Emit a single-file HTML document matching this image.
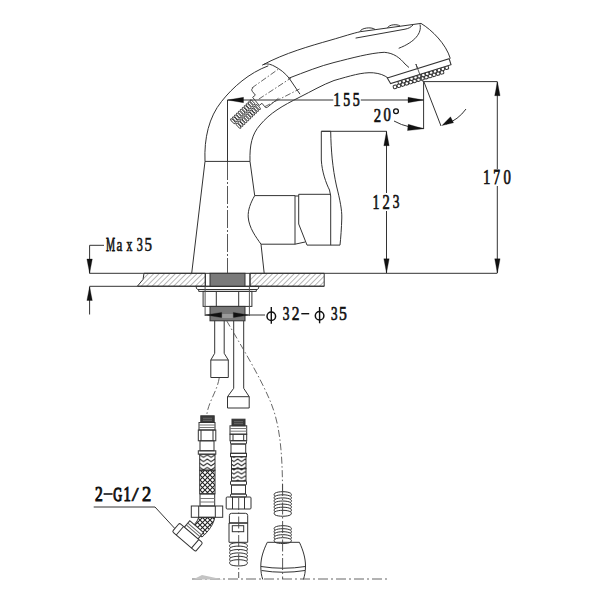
<!DOCTYPE html>
<html><head><meta charset="utf-8">
<style>
html,body{margin:0;padding:0;background:#fff;}
svg{display:block;}
text{font-family:"Liberation Serif",serif;fill:#111;stroke:#111;stroke-width:0.55px;}
</style></head>
<body>
<svg width="600" height="600" viewBox="0 0 600 600">
<defs>
<pattern id="hatch" patternUnits="userSpaceOnUse" width="3.82" height="3.82" patternTransform="rotate(45)">
<line x1="0" y1="0" x2="0" y2="3.82" stroke="#555" stroke-width="0.85"/>
</pattern>
</defs>
<rect width="600" height="600" fill="#fff"/>
<g fill="none" stroke="#333" stroke-width="1" stroke-linejoin="round">

<!-- ===== DIMENSIONS ===== -->
<!-- 155 -->
<path d="M227.5 100 H333.3 M360.8 100 H423.6"/>
<path d="M227.5 100 V162"/>
<path d="M423.6 82 V129"/>
<path d="M423 81.6 H497.3"/>
<!-- 170 -->
<path d="M497.3 82 V169 M497.3 186 V273"/>
<!-- 123 -->
<path d="M386.5 131.3 V193 M386.5 211 V273"/>
<path d="M321.3 131.3 H386.7"/>
<!-- countertop line -->
<path d="M89.5 273.3 H497.3"/>
<path d="M89.5 286.3 H137.5"/>
<!-- max35 -->
<path d="M104 245.3 H89.6 V273.3 M89.6 286.7 V314.5"/>
<!-- 20 deg -->
<path d="M394 121 Q401 125 410 127 L423.6 128.5"/>
<path d="M424 82 L441 126"/>
<path d="M466 109 Q458 120 446 124"/>
<!-- phi dim -->
<path d="M205 315 H265"/>
<!-- 2-G1/2 leader -->
<path d="M93.7 507 H155 L175 528.7"/>
</g>


<!-- ===== FAUCET BODY ===== -->
<g fill="none" stroke="#333" stroke-width="1" stroke-linejoin="round">
<!-- outer spout arc -->
<path d="M205 161.4 C204 138 209 117 221.5 101.5 C233 87 249 73 268.3 65.8"/>
<!-- body top line -->
<path d="M205 161.4 H250"/>
<!-- body left -->
<path d="M205 161.4 L191.7 273.3"/>
<!-- body right concave -->
<path d="M250 161.4 L254.7 195.6 C250.5 203 247.8 210 248.2 217 C249 228 256 237 261 244.2 L264.2 273.3"/>
<!-- inner spout arc -->
<path d="M250 161.4 C249.5 145 252 134 260 125 C270 113 282 106 300 97 C312 91 322 85 334 80.5 C350 76 362 72 373.3 72.8 C380 73.5 384 75 388.5 78.3"/>
<!-- head top outer line -->
<path d="M262.5 65 C285 53 310 46 330 40.3 C345 36 352 33.5 360.3 31.7 L421 23.4"/>
<!-- buttons -->
<path d="M360 31.6 C361 28 371 26.5 375 29.4"/>
<path d="M387.5 27.8 C389 24.5 397 23.8 400 26"/>
<!-- head front right curve -->
<path d="M421 23.4 C432 30 446 44 450.3 58.5"/>
<!-- head back edge -->
<path d="M262.5 65 C266 63 270 64 274 66 C280 69 285 73 289 78 L300 94.2"/>
<!-- middle line -->
<path d="M288.5 78.3 C305 72 320 66 334 62.5 C352 58 370 53 384.2 52.3 C394 53 400 58 405 64 L409 67.5"/>
<!-- inner top line -->
<path d="M355.6 38.1 L405 29.2 C409 28.5 411 27 413 25 M420 24.4 C422 33 415 42 398.7 48.3"/>
<!-- nozzle face -->
<path d="M415.9 64 L420.5 77"/>
</g>
<g transform="translate(387.3 78) rotate(-17.3)" fill="#fff" stroke="#333" stroke-width="1">
<rect x="3.0" y="9.1" width="3.4" height="3.4" rx="1"/><rect x="7.1" y="9.1" width="3.4" height="3.4" rx="1"/><rect x="11.2" y="9.1" width="3.4" height="3.4" rx="1"/><rect x="15.3" y="9.1" width="3.4" height="3.4" rx="1"/><rect x="19.4" y="9.1" width="3.4" height="3.4" rx="1"/><rect x="23.5" y="9.1" width="3.4" height="3.4" rx="1"/><rect x="27.6" y="9.1" width="3.4" height="3.4" rx="1"/><rect x="31.7" y="9.1" width="3.4" height="3.4" rx="1"/><rect x="35.8" y="9.1" width="3.4" height="3.4" rx="1"/><rect x="39.9" y="9.1" width="3.4" height="3.4" rx="1"/><rect x="44.0" y="9.1" width="3.4" height="3.4" rx="1"/><rect x="48.1" y="9.1" width="3.4" height="3.4" rx="1"/><rect x="52.2" y="9.1" width="3.4" height="3.4" rx="1"/>
<rect x="9.0" y="6.1" width="3.4" height="3.4" rx="1"/><rect x="13.1" y="6.1" width="3.4" height="3.4" rx="1"/><rect x="17.2" y="6.1" width="3.4" height="3.4" rx="1"/><rect x="21.3" y="6.1" width="3.4" height="3.4" rx="1"/><rect x="25.4" y="6.1" width="3.4" height="3.4" rx="1"/><rect x="29.5" y="6.1" width="3.4" height="3.4" rx="1"/><rect x="33.6" y="6.1" width="3.4" height="3.4" rx="1"/><rect x="37.7" y="6.1" width="3.4" height="3.4" rx="1"/><rect x="41.8" y="6.1" width="3.4" height="3.4" rx="1"/><rect x="45.9" y="6.1" width="3.4" height="3.4" rx="1"/><rect x="50.0" y="6.1" width="3.4" height="3.4" rx="1"/><rect x="54.1" y="6.1" width="3.4" height="3.4" rx="1"/><rect x="58.2" y="6.1" width="3.4" height="3.4" rx="1"/>
<path d="M0 0 H64.8 V6.3 H1.5 Z" stroke="#333" stroke-width="1"/>
</g>
<path d="M415.9 64 L422.5 81.5" stroke="#444" stroke-width="0.9" fill="none"/>
<!-- hose connector inside spout -->
<g transform="translate(258.5 99) rotate(-39)" fill="none" stroke="#444" stroke-width="0.9">
<path d="M16 12 H2 Q0 12 0 10 V5.5 H-3.5 V-5 H0 V-10 Q0 -12 2 -12 H3" />
</g>
<path d="M251.8 88 L279 68.7 M258.8 99.1 L291 78 M264.7 106.7 L299.5 89" fill="none" stroke="#555" stroke-width="0.9" stroke-dasharray="6 2 1.5 2"/>
<g transform="translate(245.5 114) rotate(-44)" fill="none" stroke="#333" stroke-width="0.9">
<ellipse cx="-14.0" cy="-3.5" rx="1.1" ry="3.3"/><ellipse cx="-13.2" cy="3.7" rx="1.1" ry="3.3"/><ellipse cx="-11.3" cy="-3.5" rx="1.1" ry="3.3"/><ellipse cx="-10.5" cy="3.7" rx="1.1" ry="3.3"/><ellipse cx="-8.6" cy="-3.5" rx="1.1" ry="3.3"/><ellipse cx="-7.8" cy="3.7" rx="1.1" ry="3.3"/><ellipse cx="-5.9" cy="-3.5" rx="1.1" ry="3.3"/><ellipse cx="-5.1" cy="3.7" rx="1.1" ry="3.3"/><ellipse cx="-3.2" cy="-3.5" rx="1.1" ry="3.3"/><ellipse cx="-2.4" cy="3.7" rx="1.1" ry="3.3"/><ellipse cx="-0.5" cy="-3.5" rx="1.1" ry="3.3"/><ellipse cx="0.3" cy="3.7" rx="1.1" ry="3.3"/><ellipse cx="2.2" cy="-3.5" rx="1.1" ry="3.3"/><ellipse cx="3.0" cy="3.7" rx="1.1" ry="3.3"/><ellipse cx="4.9" cy="-3.5" rx="1.1" ry="3.3"/><ellipse cx="5.7" cy="3.7" rx="1.1" ry="3.3"/><ellipse cx="7.6" cy="-3.5" rx="1.1" ry="3.3"/><ellipse cx="8.4" cy="3.7" rx="1.1" ry="3.3"/><ellipse cx="10.3" cy="-3.5" rx="1.1" ry="3.3"/><ellipse cx="11.1" cy="3.7" rx="1.1" ry="3.3"/><ellipse cx="13.0" cy="-3.5" rx="1.1" ry="3.3"/><ellipse cx="13.8" cy="3.7" rx="1.1" ry="3.3"/>
</g>
<!-- handle box -->
<g fill="none" stroke="#333" stroke-width="1">
<path d="M254.7 195.6 H295 M298.7 194.3 H330.8 M295 196 H298.7"/>
<path d="M261 244.2 H295 L305.1 242 M307 245.1 H340"/>
<path d="M295 195.6 V244.2 M298.7 194.3 V224 L307 245.1"/>
<!-- lever -->
<path d="M321.3 131.3 H330.7"/>
<path d="M321.3 131.3 V160 C322 172 326 183 329.5 190 L330.7 196 V245.1"/>
<path d="M330.7 131.3 C331 150 332.5 168 336.5 186 C340 200 342 210 341.8 218 C341.5 228 340.8 238 340 245.1"/>
</g>

<!-- ===== COUNTERTOP ===== -->
<g stroke="#333" stroke-width="1">
<path d="M144 273.3 L143 279.5 L137.3 286.3 H205.3 V273.3 Z" fill="url(#hatch)"/>
<path d="M250 273.3 H324.2 V286.3 H250 Z" fill="url(#hatch)"/>
<path d="M137.5 286.2 H324.2" fill="none"/>
<rect x="210" y="273.3" width="35" height="13" fill="#7a7a7a"/>
<path d="M205.3 273.3 V286.3 M250 273.3 V286.3" fill="none"/>
</g>
<!-- center dash-dot line body -->
<path d="M227.5 162 V273" fill="none" stroke="#444" stroke-width="0.9" stroke-dasharray="18 2 2 2"/>

<!-- ===== UNDER COUNTER ===== -->
<g fill="none" stroke="#333" stroke-width="1">
<!-- flange -->
<path d="M196.3 286.4 H258.7 V288 L257.5 289.5 H197.5 L196.3 288 Z"/>
<path d="M198.7 289.5 V291.4 H256.3 V289.5"/>
<!-- nut -->
<rect x="203.1" y="291.4" width="48.8" height="15"/>
<path d="M216.3 291.4 V306.4 M238.7 291.4 V306.4"/>
<path d="M205.1 286.4 V316 M249.4 286.4 V316" stroke="#555"/>
</g>
<rect x="210" y="306.4" width="35" height="14.4" fill="#777" stroke="#333" stroke-width="1"/>
<rect x="221.6" y="314" width="12.4" height="4" fill="#9a9a9a" stroke="none"/>
<g fill="none" stroke="#333" stroke-width="1">
<!-- left tube -->
<path d="M214.7 320.8 V353.3 L210.8 360 V377.5 H228.3 V360 L224.2 353.3 V320.8"/>
<path d="M210.8 360 H228.3"/>
<!-- right tube -->
<path d="M233.7 320.8 V388.3 L227.5 396.7 V408 H249.2 V396.7 L243.7 388.3 V320.8"/>
<path d="M227.5 396.7 H249.2"/>
</g>
<!-- dashed curves -->
<g fill="none" stroke="#555" stroke-width="0.9" stroke-dasharray="7 2.5 1.5 2.5">
<path d="M219.2 378 C217 392 208 402 206.7 415.8"/>
<path d="M226.7 320.8 C240 344 260 376 271 403 C279 423 282.5 448 282.5 491"/>
</g>


<!-- ===== HOSES ===== -->
<defs>
<pattern id="braidH" patternUnits="userSpaceOnUse" width="7.6" height="4.2" x="199.7" y="454">
<path d="M-1 0 L0 0.8 L3.8 3.4 L7.6 0.8 L8.6 0" fill="none" stroke="#222" stroke-width="1.1"/>
</pattern>
<pattern id="braidX" patternUnits="userSpaceOnUse" width="5" height="5">
<path d="M0 0 L5 5 M5 0 L0 5" fill="none" stroke="#222" stroke-width="1.05"/>
</pattern>
</defs>
<!-- left hose -->
<g stroke="#333" stroke-width="1" fill="none">
<rect x="200.8" y="415.8" width="13.4" height="6.7" fill="#3a3a3a"/>
<path d="M203 418.3 H212 M203 420.3 H212" stroke="#888" stroke-width="0.6"/>
<rect x="199" y="422.5" width="16" height="7.5"/>
<path d="M199 425 H215 M199 427.5 H215" stroke="#777"/>
<rect x="198.3" y="430" width="17.5" height="10.8"/>
<path d="M201 430 V440.8 M213 430 V440.8"/>
<rect x="200" y="440.8" width="14" height="10"/>
<rect x="198.3" y="450.8" width="17.5" height="3.4"/>
<rect x="199.7" y="454.2" width="15.3" height="16" fill="url(#braidH)"/>
<rect x="199.7" y="470.2" width="15.3" height="23.6" fill="url(#braidX)"/>
<rect x="200" y="494" width="14.7" height="12"/>
<path d="M200 498.5 H214.7 M200 502 H214.7" stroke="#777"/>
<rect x="191.3" y="506" width="31.4" height="11.3"/>
<path d="M198.7 506 V517.3 M215.3 506 V517.3"/>
</g>
<!-- bend braided -->
<path d="M198.5 517.3 H214.7 C214 524 208 532 202 537 L190 529 C194 525 198 521 198.5 517.3 Z" fill="url(#braidX)" stroke="#333" stroke-width="1"/>
<!-- angled fitting -->
<g transform="translate(187.5 537.3) rotate(40.7)" stroke="#333" stroke-width="1" fill="#fff">
<rect x="-9" y="-14" width="18" height="8.5"/>
<path d="M-9 -11 H9 M-9 -8.5 H9" fill="none" stroke="#666"/>
<rect x="-15.3" y="-5.6" width="30.6" height="11.2" rx="1.6"/>
<path d="M-10 -5.6 V5.6 M10 -5.6 V5.6" fill="none"/>
</g>

<!-- right hose -->
<g stroke="#333" stroke-width="1" fill="none">
<rect x="232" y="419.2" width="13" height="6.6" fill="#3a3a3a"/>
<path d="M234 421.7 H243 M234 423.7 H243" stroke="#888" stroke-width="0.6"/>
<rect x="230" y="425.8" width="16.7" height="8.4"/>
<path d="M230 428.5 H246.7 M230 431.2 H246.7" stroke="#777"/>
<rect x="230" y="434.2" width="16.7" height="6.6"/>
<path d="M233 434.2 V440.8 M243.7 434.2 V440.8"/>
<rect x="230.5" y="440.6" width="16" height="3.4" rx="1"/>
<rect x="231" y="444" width="14.7" height="9.3"/>
<rect x="230.5" y="453.3" width="16" height="3.4"/>
<rect x="231.5" y="456.7" width="14.5" height="12" fill="url(#braidH)"/>
<rect x="231.5" y="468.7" width="14.5" height="12.3" fill="url(#braidH)"/>
<rect x="230.5" y="481" width="16" height="4" rx="1"/>
<rect x="231.5" y="485" width="14" height="9"/>
<rect x="230.5" y="494" width="16" height="3" rx="1"/>
<rect x="226.2" y="497" width="24.8" height="12" rx="1"/>
<path d="M232.5 497 V509 M244.5 497 V509"/>
<path d="M229.4 523 V515.5 Q229.4 513.3 231.6 513.3 H245.5 Q247.7 513.3 247.7 515.5 V523"/>
<path d="M229 523 H247.7" stroke-width="1.6"/>
<path d="M229 523 V542.3 H247.7 V523"/>
<rect x="232.3" y="525.7" width="11.4" height="6"/>
</g>
<!-- thread -->
<g stroke="#333" stroke-width="1" fill="none">
<path d="M230.5 544.2 C233.5 542.2 243.5 542.2 246.5 544.2 M230.5 544.2 C229.3 544.8 229.3 546.4 230.5 547.6 M246.5 544.2 C247.7 544.8 247.7 546.4 246.5 547.6 M230.5 547.6 C233.5 545.6 243.5 545.6 246.5 547.6 M230.5 547.6 C229.3 548.2 229.3 549.8 230.5 551.0 M246.5 547.6 C247.7 548.2 247.7 549.8 246.5 551.0 M230.5 551.0 C233.5 549.0 243.5 549.0 246.5 551.0 M230.5 551.0 C229.3 551.6 229.3 553.2 230.5 554.4 M246.5 551.0 C247.7 551.6 247.7 553.2 246.5 554.4 M230.5 554.4 C233.5 552.4 243.5 552.4 246.5 554.4 M230.5 554.4 C229.3 555.0 229.3 556.6 230.5 557.8 M246.5 554.4 C247.7 555.0 247.7 556.6 246.5 557.8 M230.5 557.8 C233.5 555.8 243.5 555.8 246.5 557.8 M230.5 557.8 C229.3 558.4 229.3 560.0 230.5 561.2 M246.5 557.8 C247.7 558.4 247.7 560.0 246.5 561.2 M230.5 561.2 C233.5 559.2 243.5 559.2 246.5 561.2 M230.5 561.2 C229.3 561.8 229.3 563.4 230.5 564.6 M246.5 561.2 C247.7 561.8 247.7 563.4 246.5 564.6 M230.5 564.6 C233.5 566.4 243.5 566.4 246.5 564.6 "/>
</g>
<path d="M238.7 498 V578" fill="none" stroke="#444" stroke-width="0.9" stroke-dasharray="12 2.5 1.5 2.5"/>

<!-- shower spring + bulb -->
<g stroke="#333" stroke-width="1" fill="none">
<path d="M275 493.2 C278 491.2 287.5 491.2 290.5 493.2 M275 493.2 C273.8 493.8 273.8 495.1 275 496.3 M290.5 493.2 C291.7 493.8 291.7 495.1 290.5 496.3 M275 496.3 C278 494.3 287.5 494.3 290.5 496.3 M275 496.3 C273.8 496.9 273.8 498.2 275 499.4 M290.5 496.3 C291.7 496.9 291.7 498.2 290.5 499.4 M275 499.4 C278 497.4 287.5 497.4 290.5 499.4 M275 499.4 C273.8 500.0 273.8 501.3 275 502.5 M290.5 499.4 C291.7 500.0 291.7 501.3 290.5 502.5 M275 502.5 C278 500.5 287.5 500.5 290.5 502.5 M275 502.5 C273.8 503.1 273.8 504.4 275 505.6 M290.5 502.5 C291.7 503.1 291.7 504.4 290.5 505.6 M275 505.6 C278 503.6 287.5 503.6 290.5 505.6 M275 505.6 C273.8 506.2 273.8 507.5 275 508.7 M290.5 505.6 C291.7 506.2 291.7 507.5 290.5 508.7 M275 508.7 C278 506.7 287.5 506.7 290.5 508.7 M275 508.7 C273.8 509.3 273.8 510.6 275 511.8 M290.5 508.7 C291.7 509.3 291.7 510.6 290.5 511.8 M275 511.8 C278 509.8 287.5 509.8 290.5 511.8 M275 511.8 C273.8 512.4 273.8 513.7 275 514.9 M290.5 511.8 C291.7 512.4 291.7 513.7 290.5 514.9 M275 514.9 C278 516.7 287.5 516.7 290.5 514.9 "/>
<path d="M275 527.2 C278 525.2 287.5 525.2 290.5 527.2 M275 527.2 C273.8 527.8 273.8 529.0 275 530.2 M290.5 527.2 C291.7 527.8 291.7 529.0 290.5 530.2 M275 530.2 C278 528.2 287.5 528.2 290.5 530.2 M275 530.2 C273.8 530.8 273.8 532.0 275 533.2 M290.5 530.2 C291.7 530.8 291.7 532.0 290.5 533.2 M275 533.2 C278 531.2 287.5 531.2 290.5 533.2 M275 533.2 C273.8 533.8 273.8 535.0 275 536.2 M290.5 533.2 C291.7 533.8 291.7 535.0 290.5 536.2 M275 536.2 C278 534.2 287.5 534.2 290.5 536.2 M275 536.2 C273.8 536.8 273.8 538.0 275 539.2 M290.5 536.2 C291.7 536.8 291.7 538.0 290.5 539.2 M275 539.2 C278 537.2 287.5 537.2 290.5 539.2 M275 539.2 C273.8 539.8 273.8 541.0 275 542.2 M290.5 539.2 C291.7 539.8 291.7 541.0 290.5 542.2 M275 542.2 C278 544.0 287.5 544.0 290.5 542.2 "/>
<!-- bulb -->
<path d="M262.8 579.5 C261.5 576 260.8 572 260.8 566 C260.8 558 263.5 550 267.3 542.3 H299.4 C303 550 305.5 558 305.5 566 C305.5 572 304.5 576 303.4 579.5"/>
<path d="M261 566.5 Q283 570 305.5 566.5 M261.5 570.5 Q283 574 305 570.5"/>
</g>
<path d="M282.6 484 V579" fill="none" stroke="#444" stroke-width="0.9" stroke-dasharray="12 2.5 1.5 2.5"/>
<!-- bottom dashed line -->
<path d="M192 579 H390" fill="none" stroke="#555" stroke-width="0.9" stroke-dasharray="10 3 2 3"/>
<path d="M193 579.5 L202 575 L223 579.5 Z" fill="#c4c4c4" stroke="none"/>

<!-- arrows -->
<g fill="#111" stroke="#111" stroke-width="0.3" stroke-linejoin="miter">
<path d="M227.5 100 L243.5 97.3 L243.5 102.7 Z"/>
<path d="M423.6 100 L408 97.3 L408 102.7 Z"/>
<path d="M497.4 81.6 L494.7 95.7 L500.1 95.7 Z"/>
<path d="M497.4 273 L494.7 258.8 L500.1 258.8 Z"/>
<path d="M386.5 131.5 L383.8 145.7 L389.2 145.7 Z"/>
<path d="M386.5 273 L383.8 258.8 L389.2 258.8 Z"/>
<path d="M89.6 273.3 L86.9 259 L92.3 259 Z"/>
<path d="M89.6 286.7 L86.9 300.5 L92.3 300.5 Z"/>
<path d="M423.6 128.8 L408.2 124.3 L407.5 130.6 Z"/>
<path d="M442 125.5 L450.5 116.8 L453.5 122.8 Z"/>
<path d="M205.5 315 L221.7 312.4 L221.7 317.6 Z"/>
<path d="M248.7 315 L233.3 312.4 L233.3 317.6 Z"/>
</g>

<!-- texts -->
<g id="texts">
<text transform="translate(333.36 106.22) scale(0.760 1)" font-size="19.55" style="stroke-width:0.66px">1</text>
<text transform="translate(343.27 106.03) scale(0.709 1)" font-size="19.40" style="stroke-width:0.71px">5</text>
<text transform="translate(352.86 106.03) scale(0.722 1)" font-size="19.40" style="stroke-width:0.69px">5</text>
<text transform="translate(373.74 121.52) scale(0.755 1)" font-size="19.55" style="stroke-width:0.66px">2</text>
<text transform="translate(383.51 121.33) scale(0.772 1)" font-size="19.11" style="stroke-width:0.65px">0</text>
<text transform="translate(372.44 208.52) scale(0.700 1)" font-size="20.00" style="stroke-width:0.71px">1</text>
<text transform="translate(382.45 208.52) scale(0.725 1)" font-size="20.00" style="stroke-width:0.69px">2</text>
<text transform="translate(392.73 208.32) scale(0.681 1)" font-size="19.70" style="stroke-width:0.73px">3</text>
<text transform="translate(483.06 183.82) scale(0.726 1)" font-size="20.45" style="stroke-width:0.69px">1</text>
<text transform="translate(493.22 183.82) scale(0.659 1)" font-size="20.61" style="stroke-width:0.76px">7</text>
<text transform="translate(503.51 183.62) scale(0.738 1)" font-size="20.00" style="stroke-width:0.68px">0</text>
<text transform="translate(282.73 320.03) scale(0.697 1)" font-size="19.25" style="stroke-width:0.72px">3</text>
<text transform="translate(291.70 320.22) scale(0.793 1)" font-size="19.55" style="stroke-width:0.63px">2</text>
<text transform="translate(331.04 320.04) scale(0.706 1)" font-size="18.66" style="stroke-width:0.71px">3</text>
<text transform="translate(339.06 320.04) scale(0.838 1)" font-size="18.80" style="stroke-width:0.60px">5</text>
<text transform="translate(106.09 251.02) scale(0.528 1)" font-size="19.39" style="stroke-width:0.76px">M</text>
<text transform="translate(116.44 250.85) scale(0.726 1)" font-size="18.12" style="stroke-width:0.55px">a</text>
<text transform="translate(126.58 251.02) scale(0.617 1)" font-size="18.91" style="stroke-width:0.65px">x</text>
<text transform="translate(136.79 250.83) scale(0.643 1)" font-size="18.96" style="stroke-width:0.62px">3</text>
<text transform="translate(144.50 250.83) scale(0.785 1)" font-size="19.10" style="stroke-width:0.51px">5</text>
<text transform="translate(95.00 501.12) scale(0.775 1)" font-size="20.00" style="stroke-width:1.03px">2</text>
<text transform="translate(113.21 500.92) scale(0.625 1)" font-size="19.70" style="stroke-width:1.28px">G</text>
<text transform="translate(123.49 501.12) scale(0.729 1)" font-size="20.00" style="stroke-width:1.10px">1</text>
<text transform="translate(131.80 500.92) scale(1.255 1)" font-size="19.70" style="stroke-width:0.64px">/</text>
<text transform="translate(142.07 501.12) scale(0.925 1)" font-size="20.00" style="stroke-width:0.86px">2</text>
<g fill="none" stroke="#111">
<circle cx="396" cy="111.2" r="2.4" stroke-width="1.3"/>
<ellipse cx="271.3" cy="316.3" rx="4.3" ry="4.3" stroke-width="1.5"/>
<path d="M271.3 307 V323.7" stroke-width="1.4"/>
<ellipse cx="319.6" cy="315.7" rx="4.3" ry="4.3" stroke-width="1.5"/>
<path d="M319.6 307 V323.3" stroke-width="1.4"/>
<path d="M301.3 313.7 H309.2" stroke-width="1.4"/>
<path d="M103.6 494 H112.6" stroke-width="1.6"/>
</g>
</g>
</svg>
</body></html>
